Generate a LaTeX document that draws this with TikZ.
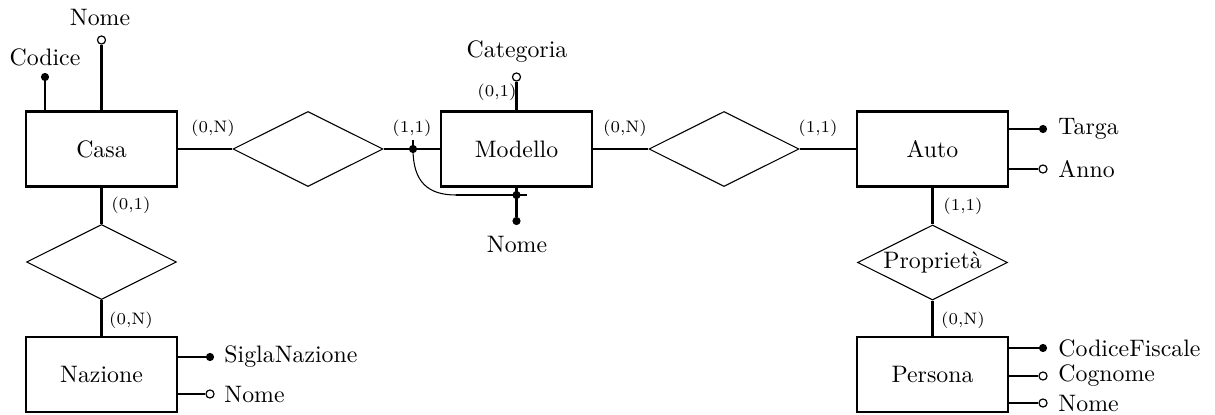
\documentclass[tikz,border=0pt]{standalone}
\usetikzlibrary{shapes.geometric}
\begin{document}
\begin{tikzpicture}[x=0.42pt,y=-0.42pt,
 entity/.style={draw,line width=0.9pt,minimum width=63.4pt,minimum height=31.5pt,inner sep=0pt},
 rel/.style={draw,diamond,line width=0.45pt,minimum width=63pt,minimum height=31.5pt,aspect=2,inner sep=0pt},
 keyattr/.style={circle,fill,draw,line width=0.4pt,inner sep=0pt,minimum size=3pt},
 optattr/.style={circle,fill=white,draw,line width=0.5pt,inner sep=0pt,minimum size=3.4pt},
 conn/.style={line width=0.9pt},
 thin/.style={line width=0.45pt},
 card/.style={font=\scriptsize,inner sep=0pt},
 lbl/.style={inner sep=0pt}
]
\useasboundingbox (0,0) rectangle (1215,414);

% entities
\node[entity] (casa) at (101.5,149) {Casa};
\node[entity] (modello) at (516.5,149) {Modello};
\node[entity] (auto) at (932.5,149) {Auto};
\node[entity] (nazione) at (101.5,374.5) {Nazione};
\node[entity] (persona) at (932.5,374.5) {Persona};

% relationships
\node[rel] (r1) at (308,149) {};
\node[rel] (r2) at (724,149) {};
\node[rel] (r3) at (101.5,262) {};
\node[rel] (prop) at (932.5,262.5) {Propriet\`a};

% connectors
\draw[conn] (casa) -- (r1);
\draw[conn] (r1) -- (modello);
\draw[conn] (modello) -- (r2);
\draw[conn] (r2) -- (auto);
\draw[conn] (casa.south) -- (r3.north);
\draw[conn] (r3.south) -- (nazione.north);
\draw[conn] (auto.south) -- (prop.north);
\draw[conn] (prop.south) -- (persona.north);

% cardinalities
\node[card] (c1) at (213,128) {(0,N)};
\node[card] (c2) at (412,128) {(1,1)};
\node[card] (c3) at (625,128) {(0,N)};
\node[card] (c4) at (818,128) {(1,1)};
\node[card] (c5) at (131,205) {(0,1)};
\node[card] (c6) at (131,320) {(0,N)};
\node[card] (c7) at (963,206) {(1,1)};
\node[card] (c8) at (963,320) {(0,N)};
\node[card] (c9) at (497,92) {(0,1)};

% Casa attributes
\node[keyattr] (codice) at (45,77) {};
\draw[conn] (casa.north -| codice) -- (codice);
\node[lbl] (codiceT) at (45,57) {Codice};
\node[optattr] (nomeC) at (101.5,40) {};
\draw[conn] (casa.north -| nomeC) -- (nomeC);
\node[lbl] (nomeCT) at (100,17) {Nome};

% Modello attributes
\node[optattr] (cat) at (516.5,77) {};
\draw[conn] (modello.north -| cat) -- (cat);
\node[lbl] (catT) at (517,52) {Categoria};

\node[keyattr] (d1) at (413,149) {};
\coordinate (d1top) at (413,140);
\draw[conn] (d1.center) -- (d1top);
\coordinate (ca) at (456,195);
\coordinate (cb) at (527,195);
\draw[thin] (d1.center) .. controls (413,182) and (428,195) .. (ca);
\draw[conn] (ca) -- (cb);
\node[keyattr] (d2) at (516.5,195) {};
\node[keyattr] (nomeM) at (516.5,221) {};
\draw[conn] (modello.south -| nomeM) -- (nomeM);
\node[lbl] (nomeMT) at (517,244) {Nome};

% Auto attributes
\node[keyattr] (targa) at (1043,129) {};
\draw[conn] (auto.east |- targa) -- (targa);
\node[lbl,anchor=west] (targaT) at (1058,129) {Targa};
\node[optattr] (anno) at (1043,169) {};
\draw[conn] (auto.east |- anno) -- (anno);
\node[lbl,anchor=west] (annoT) at (1058,169) {Anno};

% Nazione attributes
\node[keyattr] (sigla) at (210,357) {};
\draw[conn] (nazione.east |- sigla) -- (sigla);
\node[lbl,anchor=west] (siglaT) at (224,357) {SiglaNazione};
\node[optattr] (nomeN) at (210,394) {};
\draw[conn] (nazione.east |- nomeN) -- (nomeN);
\node[lbl,anchor=west] (nomeNT) at (224,394) {Nome};

% Persona attributes
\node[keyattr] (cf) at (1043,348) {};
\draw[conn] (persona.east |- cf) -- (cf);
\node[lbl,anchor=west] (cfT) at (1058,348) {CodiceFiscale};
\node[optattr] (cogn) at (1043,376) {};
\draw[conn] (persona.east |- cogn) -- (cogn);
\node[lbl,anchor=west] (cognT) at (1058,376) {Cognome};
\node[optattr] (nomeP) at (1043,403) {};
\draw[conn] (persona.east |- nomeP) -- (nomeP);
\node[lbl,anchor=west] (nomePT) at (1058,403) {Nome};
\end{tikzpicture}
\end{document}
